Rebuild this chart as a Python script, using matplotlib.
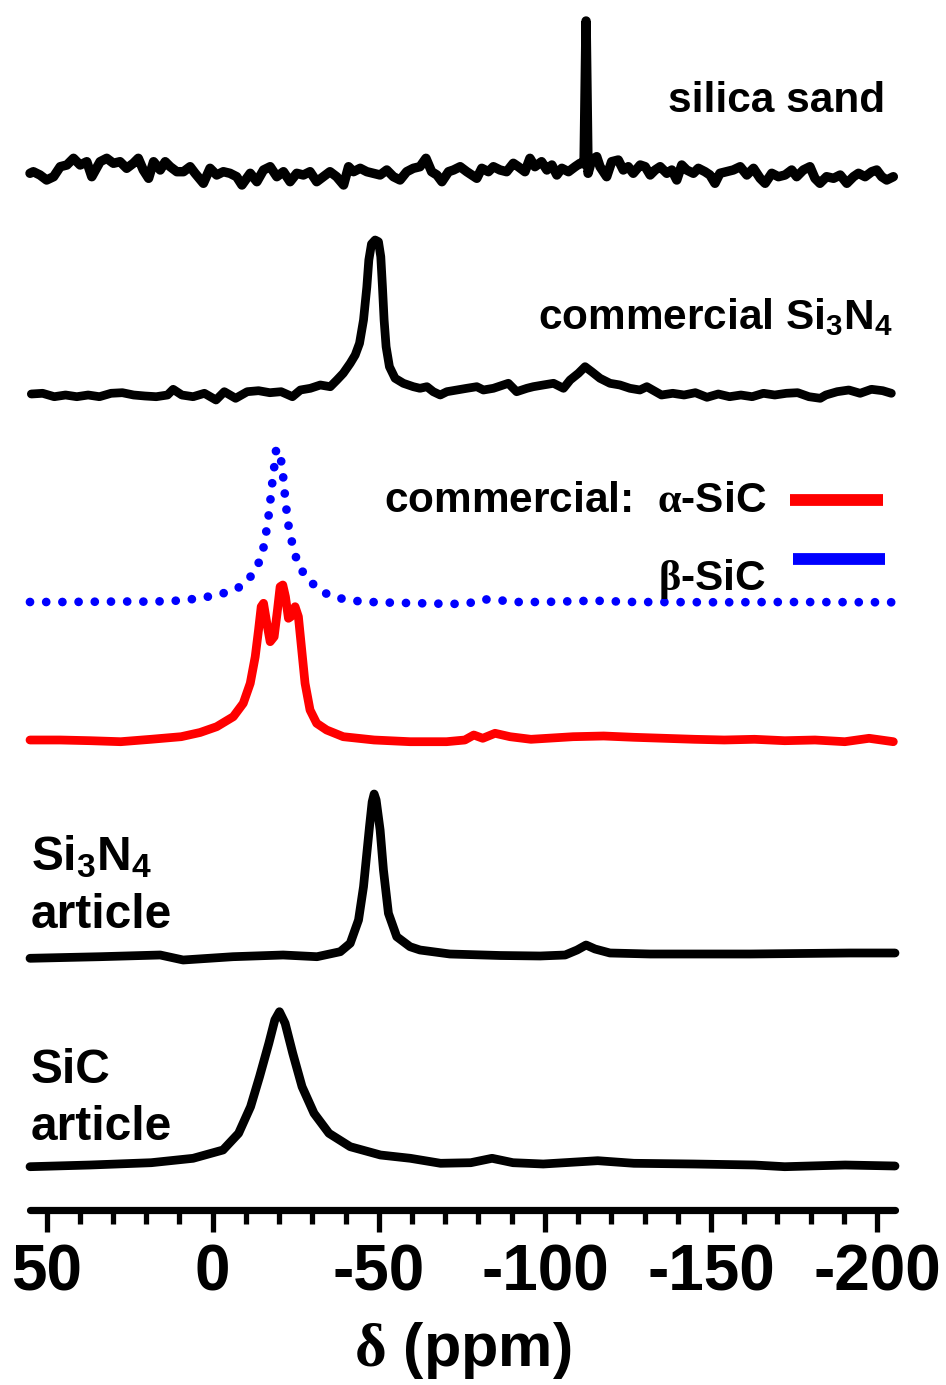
import matplotlib
matplotlib.use("Agg")
import numpy as np
import matplotlib.pyplot as plt
from matplotlib.lines import Line2D
from matplotlib.ticker import MultipleLocator

plt.rcParams['font.family'] = ['Liberation Sans', 'DejaVu Sans']
plt.rcParams['font.weight'] = 'bold'
plt.rcParams['axes.unicode_minus'] = False
plt.rcParams['mathtext.fontset'] = 'custom'
plt.rcParams['mathtext.rm'] = 'Liberation Serif'
plt.rcParams['mathtext.bf'] = 'Liberation Sans:bold'
plt.rcParams['mathtext.default'] = 'bf'

# ---- 29Si MAS NMR spectra: chemical shift (ppm) and intensity above baseline ----
silica_ppm = [55.0, 54.0, 52.0, 50.0, 47.9, 45.9, 43.9, 41.9, 39.9, 37.9, 36.4, 33.9, 31.9, 29.9,
              27.9, 25.9, 23.9, 22.4, 20.9, 19.3, 17.8, 15.8, 14.3, 12.8, 10.8, 8.8, 6.8, 5.3,
              2.8, 0.8, -1.2, -3.2, -5.2, -7.2, -8.8, -11.3, -13.3, -15.3, -17.3, -19.3, -21.3,
              -23.3, -25.3, -27.3, -29.3, -31.3, -33.3, -35.3, -37.3, -39.4, -40.9, -42.4, -44.4,
              -46.4, -48.4, -50.4, -52.4, -54.4, -56.4, -58.4, -60.4, -62.4, -64.2, -65.9, -67.5,
              -69.0, -71.0, -72.5, -74.5, -76.5, -79.5, -81.0, -83.0, -84.5, -86.5, -88.5, -90.5,
              -92.0, -94.0, -95.5, -97.0, -99.0, -100.6, -102.1, -103.6, -105.1, -107.1, -109.1,
              -110.6, -111.8, -112.4, -113.0, -114.1, -115.6, -116.6, -118.6, -120.1, -122.1,
              -123.6, -125.1, -126.6, -128.7, -130.2, -131.7, -133.2, -134.7, -136.7, -138.2,
              -139.7, -141.2, -142.7, -144.7, -146.2, -148.2, -149.7, -151.2, -152.7, -154.7,
              -156.7, -158.8, -160.8, -162.8, -164.8, -166.3, -168.3, -170.3, -172.3, -174.3,
              -175.8, -177.8, -179.8, -181.3, -182.8, -184.8, -186.9, -188.9, -190.9, -192.9,
              -194.4, -196.4, -198.4, -199.9, -201.4, -202.9, -204.9]
silica_int = [4.7, 6.3, 3.0, -2.0, 1.3, 11.3, 13.0, 19.7, 13.0, 16.3, 1.3, 16.3, 19.7, 14.7,
              16.3, 9.7, 14.7, 19.7, 8.0, -0.3, 16.3, 8.0, 16.3, 11.3, 6.3, 6.3, 11.3, 4.7,
              -5.3, 9.7, 3.0, 6.3, 4.7, 1.3, -7.0, 4.7, -3.7, 8.0, 11.3, 1.3, 6.3,
              -3.7, 4.7, 3.0, 6.3, -3.7, 1.3, 6.3, 1.3, -7.0, 11.3, 6.3, 9.7,
              6.3, 4.7, 3.0, 8.0, 1.3, -2.0, 6.3, 9.7, 11.3, 19.7, 6.3, 3.0,
              -3.7, 6.3, 8.0, 11.3, 6.3, -0.3, 9.7, 6.3, 11.3, 8.0, 6.3, 14.7,
              11.3, 6.3, 19.7, 11.3, 16.3, 8.0, 13.0, 3.0, 9.7, 6.3, 11.3,
              14.7, 14.0, 157.0, 4.7, 18.0, 21.3, 11.3, 1.3, 16.3, 18.0,
              8.0, 11.3, 4.7, 13.0, 11.3, 3.0, 8.0, 11.3, 4.7, 8.0,
              -2.0, 13.0, 8.0, 4.7, 9.7, 6.3, 3.0, -5.3, 4.7, 6.3,
              8.0, 11.3, 3.0, 9.7, -0.3, -5.3, 4.7, 1.3, 3.0, 8.0,
              1.3, 8.0, 11.3, -0.3, -5.3, 1.3, -0.3, 3.0, -5.3, 1.3,
              4.7, 1.3, 6.3, 8.0, 1.3, -2.0, 1.3]

si3n4_com_ppm = [54.6, 51.2, 47.7, 44.3, 40.9, 37.5, 34.1, 30.6, 27.2, 23.8, 20.4, 17.0, 13.6,
                 11.9, 9.3, 5.9, 2.5, -1.0, -3.5, -6.9, -10.4, -13.8, -17.2, -20.6, -24.0,
                 -26.4, -29.4, -32.4, -35.4, -37.4, -39.3, -41.4, -42.9, -44.2, -45.4, -46.4,
                 -47.0, -47.8, -48.9, -49.9, -50.6, -51.1, -51.6, -52.2, -53.2, -54.9, -57.4,
                 -60.4, -62.4, -64.5, -66.4, -68.5, -70.5, -73.5, -76.5, -79.5, -81.5, -84.5,
                 -89.0, -91.5, -94.6, -96.5, -99.5, -102.6, -105.6, -107.6, -110.1, -112.1,
                 -114.1, -116.6, -119.6, -122.6, -125.6, -128.6, -130.7, -135.1, -138.5,
                 -141.9, -145.3, -148.8, -152.2, -155.6, -159.0, -162.4, -165.8, -169.2,
                 -172.7, -176.1, -179.5, -182.9, -184.6, -188.0, -191.5, -194.9, -198.3,
                 -201.7, -204.3]
si3n4_com_int = [1.0, 1.7, -1.7, 0.0, -1.7, 0.0, -1.7, 1.7, 2.3, 0.0, -1.0, -1.7, 0.0,
                 5.7, 0.0, -1.7, 1.7, -5.0, 3.3, -3.3, 3.3, 4.3, 2.3, 3.3, -1.7,
                 5.0, 6.7, 10.0, 8.3, 15.0, 21.7, 31.7, 40.0, 51.7, 75.0, 108.0,
                 135.0, 151.0, 155.0, 153.3, 138.3, 108.3, 75.0, 48.3, 28.3, 16.7, 11.7,
                 8.3, 6.7, 8.3, 3.3, 0.0, 3.3, 5.0, 6.7, 8.3, 5.0, 6.7,
                 11.7, 3.3, 6.7, 8.3, 10.0, 11.7, 6.7, 15.0, 21.7, 28.3,
                 23.3, 16.7, 11.7, 10.0, 6.7, 5.0, 8.3, 0.0, 1.7,
                 0.0, 2.3, -2.3, 1.0, -1.7, 0.0, -1.7, 1.7, 0.0,
                 1.7, 2.3, -1.7, -3.3, 0.0, 3.3, 5.0, 1.7, 5.7,
                 4.3, 1.7]

beta_sic_ppm = [55.0, 45.0, 35.0, 25.0, 18.5, 9.5, 4.1, -1.3, -4.9, -8.8, -12.3, -14.5, -15.6,
                -16.3, -17.0, -17.5, -18.0, -18.6, -19.1, -19.5, -20.3, -21.0, -21.5, -21.9,
                -22.5, -23.1, -24.3, -25.5, -27.5, -30.5, -34.8, -39.6, -45.0, -54.0, -63.2,
                -72.2, -77.7, -81.3, -85.9, -90.4, -99.5, -114.9, -126.8, -154.0, -172.2, -204.8]
beta_sic_int = [0.0, 0.0, 0.3, 0.5, 0.3, 1.5, 3.7, 7.0, 10.3, 16.0, 28.7, 43.7, 58.7,
                74.3, 90.3, 106.0, 121.3, 137.0, 152.7, 153.0, 148.0, 132.0, 116.0, 100.3,
                84.7, 69.3, 54.7, 39.3, 28.0, 17.0, 7.0, 2.7, 0.3, -0.7, -1.3,
                -2.0, -0.7, 2.7, 2.0, 0.0, 0.0, 1.3, 0.0, -0.3, 0.0, -0.3]

alpha_sic_ppm = [55.0, 45.9, 36.8, 27.7, 18.6, 9.5, 3.8, -1.2, -6.2, -9.2, -11.3, -12.8, -13.8,
                 -14.6, -15.3, -16.3, -17.3, -18.5, -19.5, -20.3, -21.1, -21.9, -22.8, -23.5,
                 -24.8, -25.8, -26.8, -27.8, -29.3, -31.3, -34.3, -39.3, -48.6, -59.4, -70.4,
                 -75.9, -78.6, -81.3, -85.0, -89.5, -95.8, -108.5, -117.7, -126.8, -135.9,
                 -145.0, -154.0, -163.1, -172.2, -181.3, -190.3, -197.6, -204.9]
alpha_sic_int = [0.0, 0.0, -0.7, -1.7, 0.7, 3.3, 7.5, 13.3, 23.3, 36.7, 56.7, 83.3, 110.0,
                 133.3, 136.7, 116.7, 98.3, 103.3, 130.0, 153.3, 155.0, 143.3, 121.7, 123.3,
                 133.3, 123.3, 90.0, 56.7, 30.0, 16.7, 10.0, 3.3, 0.0, -1.7, -1.7,
                 0.0, 5.0, 1.7, 6.7, 3.3, 0.7, 3.3, 4.0, 2.7, 1.7,
                 0.7, 0.0, 0.7, -0.7, 0.0, -1.7, 1.7, -1.7]

si3n4_art_ppm = [55.0, 33.9, 15.8, 8.9, -6.1, -21.2, -31.4, -38.4, -41.4, -43.9, -45.4, -46.4,
                 -47.2, -48.0, -48.6, -49.2, -50.4, -51.4, -52.9, -55.4, -59.4, -62.4, -71.4,
                 -86.5, -98.6, -106.1, -109.7, -112.4, -115.1, -119.6, -131.7, -146.7, -161.8,
                 -176.8, -191.9, -205.4]
si3n4_art_int = [-1.3, 0.3, 2.0, -3.0, 0.3, 2.0, 0.3, 5.3, 13.7, 37.0, 70.3, 103.7,
                 130.3, 155.0, 163.0, 157.0, 127.0, 87.0, 43.7, 20.3, 10.3, 7.0, 3.0,
                 1.5, 1.0, 2.0, 7.0, 12.0, 8.0, 4.0, 3.0, 3.0, 3.0,
                 3.5, 4.0, 4.0]

sic_art_ppm = [55.0, 36.8, 18.5, 5.9, -3.1, -7.8, -11.4, -14.1, -16.9, -18.7, -20.1, -21.8,
               -24.1, -26.9, -30.5, -35.0, -41.4, -50.5, -59.5, -68.6, -77.7, -84.1, -90.4,
               -99.5, -115.9, -126.8, -144.9, -163.1, -172.2, -190.4, -205.4]
sic_art_int = [-0.7, 1.0, 3.3, 7.7, 16.0, 32.7, 59.3, 89.3, 122.7, 146.0, 154.3, 142.7,
               112.7, 79.3, 52.7, 32.7, 19.3, 11.0, 7.7, 2.7, 3.3, 7.7, 3.3,
               2.0, 5.3, 2.7, 2.0, 1.0, -0.7, 1.0, 0.0]

trace_labels = ["silica sand", r"commercial Si$_3$N$_4$"]
legend_labels = [r"commercial:  $\mathrm{\alpha}$-SiC", r"$\mathrm{\beta}$-SiC"]
sample_labels = [(r"Si$_3$N$_4$", "article"), ("SiC", "article")]
x_ticks = [50, 0, -50, -100, -150, -200]
x_label = r"$\mathrm{\delta}$ (ppm)"

W, H = 946, 1385
fig = plt.figure(figsize=(W / 100, H / 100), dpi=100)
ax = fig.add_axes([30 / W, 175 / H, 865 / W, 1200 / H])


def fpos(x, y):
    """Figure-fraction position from pixel coordinates measured from the top-left."""
    return x / W, 1 - y / H


# vertical stacking offsets (axis units)
off_silica, off_si3n4c, off_beta, off_alpha, off_si3n4a, off_sica = 1032, 815, 608, 470, 253, 44

black_kw = dict(color='black', lw=6.3, solid_joinstyle='round', solid_capstyle='round', clip_on=False)
ax.plot(silica_ppm, np.array(silica_int) + off_silica, **dict(black_kw, lw=6.8))
ax.plot(si3n4_com_ppm, np.array(si3n4_com_int) + off_si3n4c, **black_kw)
ax.plot(beta_sic_ppm, np.array(beta_sic_int) + off_beta, color='#0000ff', lw=6.3,
        linestyle=(0, (0.001, 1.85)), dash_capstyle='round', clip_on=False)
ax.plot(alpha_sic_ppm, np.array(alpha_sic_int) + off_alpha, color='#ff0000', lw=6.3,
        solid_joinstyle='round', solid_capstyle='round', clip_on=False)
ax.plot(si3n4_art_ppm, np.array(si3n4_art_int) + off_si3n4a, **black_kw)
ax.plot(sic_art_ppm, np.array(sic_art_int) + off_sica, **black_kw)

ax.set_xlim(55, -205.4)
ax.set_ylim(0, 1200)
ax.set_yticks([])
for side in ('left', 'right', 'top'):
    ax.spines[side].set_visible(False)
ax.spines['bottom'].set_linewidth(5.2)
ax.spines['bottom'].set_capstyle('round')
ax.set_xticks(x_ticks)
ax.xaxis.set_minor_locator(MultipleLocator(10))
ax.tick_params(axis='x', which='major', direction='out', length=16, width=3.8,
               labelsize=46, pad=8)
ax.tick_params(axis='x', which='minor', direction='out', length=10, width=3.8)
for lab in ax.get_xticklabels():
    lab.set_fontweight('bold')
ax.set_xlabel(x_label, fontsize=44, fontweight='bold', labelpad=12)

txt_kw = dict(fontsize=30.5, fontweight='bold', va='baseline')
fig.text(*fpos(885, 112), trace_labels[0], ha='right', **txt_kw)
fig.text(*fpos(893, 329), trace_labels[1], ha='right', **txt_kw)
fig.text(*fpos(766, 512), legend_labels[0], ha='right', **txt_kw)
fig.text(*fpos(766, 590), legend_labels[1], ha='right', **txt_kw)
fig.add_artist(Line2D([790 / W, 883 / W], [1 - 500 / H] * 2, color='#ff0000', lw=8.5,
                      solid_capstyle='butt'))
fig.add_artist(Line2D([793 / W, 885 / W], [1 - 559 / H] * 2, color='#0000ff', lw=8.5,
                      solid_capstyle='butt'))

side_kw = dict(fontsize=34.5, fontweight='bold', va='baseline', ha='left')
fig.text(*fpos(31, 870), sample_labels[0][0], **side_kw)
fig.text(*fpos(31, 928), sample_labels[0][1], **side_kw)
fig.text(*fpos(31, 1083), sample_labels[1][0], **side_kw)
fig.text(*fpos(31, 1140), sample_labels[1][1], **side_kw)

fig.savefig('out.png', dpi=100)
